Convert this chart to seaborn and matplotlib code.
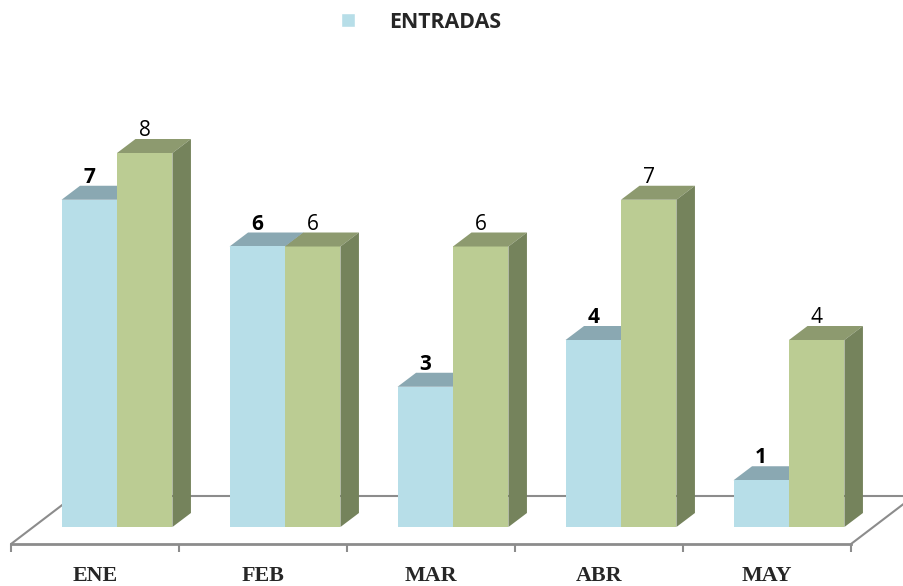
import pandas as pd
import seaborn as sns
import matplotlib.pyplot as plt
from matplotlib.patches import Polygon, Patch

months = ["ENE", "FEB", "MAR", "ABR", "MAY"]
entradas = [7, 6, 3, 4, 1]
segunda = [8, 6, 6, 7, 4]
series_names = ["ENTRADAS", "SEGUNDA"]

FRONT = ["#B7DEE8", "#BBCC93"]
TOP = ["#8AA8B2", "#8D9A6F"]
SIDE = ["#6F8790", "#75835C"]
GRAY = "#8C8C8C"

W, H = 904, 586
PX_X = 168.0     # pixels per category
PX_Y = 46.75     # pixels per unit

df = pd.DataFrame({
    "mes": months * 2,
    "valor": entradas + segunda,
    "serie": [series_names[0]] * 5 + [series_names[1]] * 5,
})

sns.set_style("white")
plt.rcParams["font.family"] = ["Open Sans", "DejaVu Sans"]

fig = plt.figure(figsize=(W / 100, H / 100), dpi=100, facecolor="white")


def rect(left, right, top, bottom):
    return [left / W, 1 - bottom / H, (right - left) / W, (bottom - top) / H]


# floor of the 3D box, sits behind the bars
floor = fig.add_axes(rect(11, 851, 100, 544), zorder=1)
# bars
ax = fig.add_axes(rect(33, 873, 100, 527), zorder=2)
ax.patch.set_alpha(0)

sns.barplot(data=df, x="mes", y="valor", hue="serie", order=months,
            palette=FRONT, saturation=1, width=0.66, linewidth=0,
            legend=False, ax=ax)
ax.set_xlim(-0.5, 4.5)
ax.set_ylim(0, (527 - 100) / PX_Y)
ax.set_xlabel("")
ax.set_ylabel("")
ax.set_xticks([])
ax.set_yticks([])
sns.despine(ax=ax, left=True, bottom=True)

# fake depth on every bar
dx = 18.5 / PX_X
dy = 14 / PX_Y
for i, cont in enumerate(ax.containers):
    z = 0.5 if i == 0 else 1.5
    for bar in cont:
        x0 = bar.get_x()
        x1 = x0 + bar.get_width()
        h = bar.get_height()
        ax.add_patch(Polygon([(x0, h), (x1, h), (x1 + dx, h + dy), (x0 + dx, h + dy)],
                             facecolor=TOP[i], linewidth=0, zorder=z))
        ax.add_patch(Polygon([(x1, 0), (x1 + dx, dy), (x1 + dx, h + dy), (x1, h)],
                             facecolor=SIDE[i], linewidth=0, zorder=z))
    ax.bar_label(cont, fmt="%d", padding=8.5, fontsize=15, color="black",
                 fontweight="bold" if i == 0 else "normal", zorder=3)

# floor lines and category axis
floor.set_xlim(-0.5, 4.5)
floor.set_ylim(0, (544 - 100) / PX_Y)
floor.set_yticks([])
floor.set_xticks(range(5))
floor.set_xticklabels(months, family="Liberation Serif", fontweight="bold", fontsize=15.8)
floor.tick_params(axis="x", which="major", length=0, pad=16)
floor.set_xticks([i - 0.5 for i in range(6)], minor=True)
floor.tick_params(axis="x", which="minor", length=5.5, width=1.5, color=GRAY, bottom=True)
sns.despine(ax=floor, left=True)
floor.spines["bottom"].set_color(GRAY)
floor.spines["bottom"].set_linewidth(2)

back_x = 63 / PX_X
back_y = 48 / PX_Y
floor.plot([-0.5, -0.5 + back_x, 4.5 + back_x, 4.5], [0, back_y, back_y, 0],
           color=GRAY, lw=1.5, clip_on=False)

fig.legend(handles=[Patch(facecolor=FRONT[0], label=series_names[0])],
           loc="center", bbox_to_anchor=(421 / W, 1 - 22 / H), frameon=False,
           handlelength=0.65, handleheight=0.65, handletextpad=1.6,
           prop={"family": "Open Sans", "weight": "bold", "size": 15.4})

fig.savefig("out.png", dpi=100, facecolor="white")
